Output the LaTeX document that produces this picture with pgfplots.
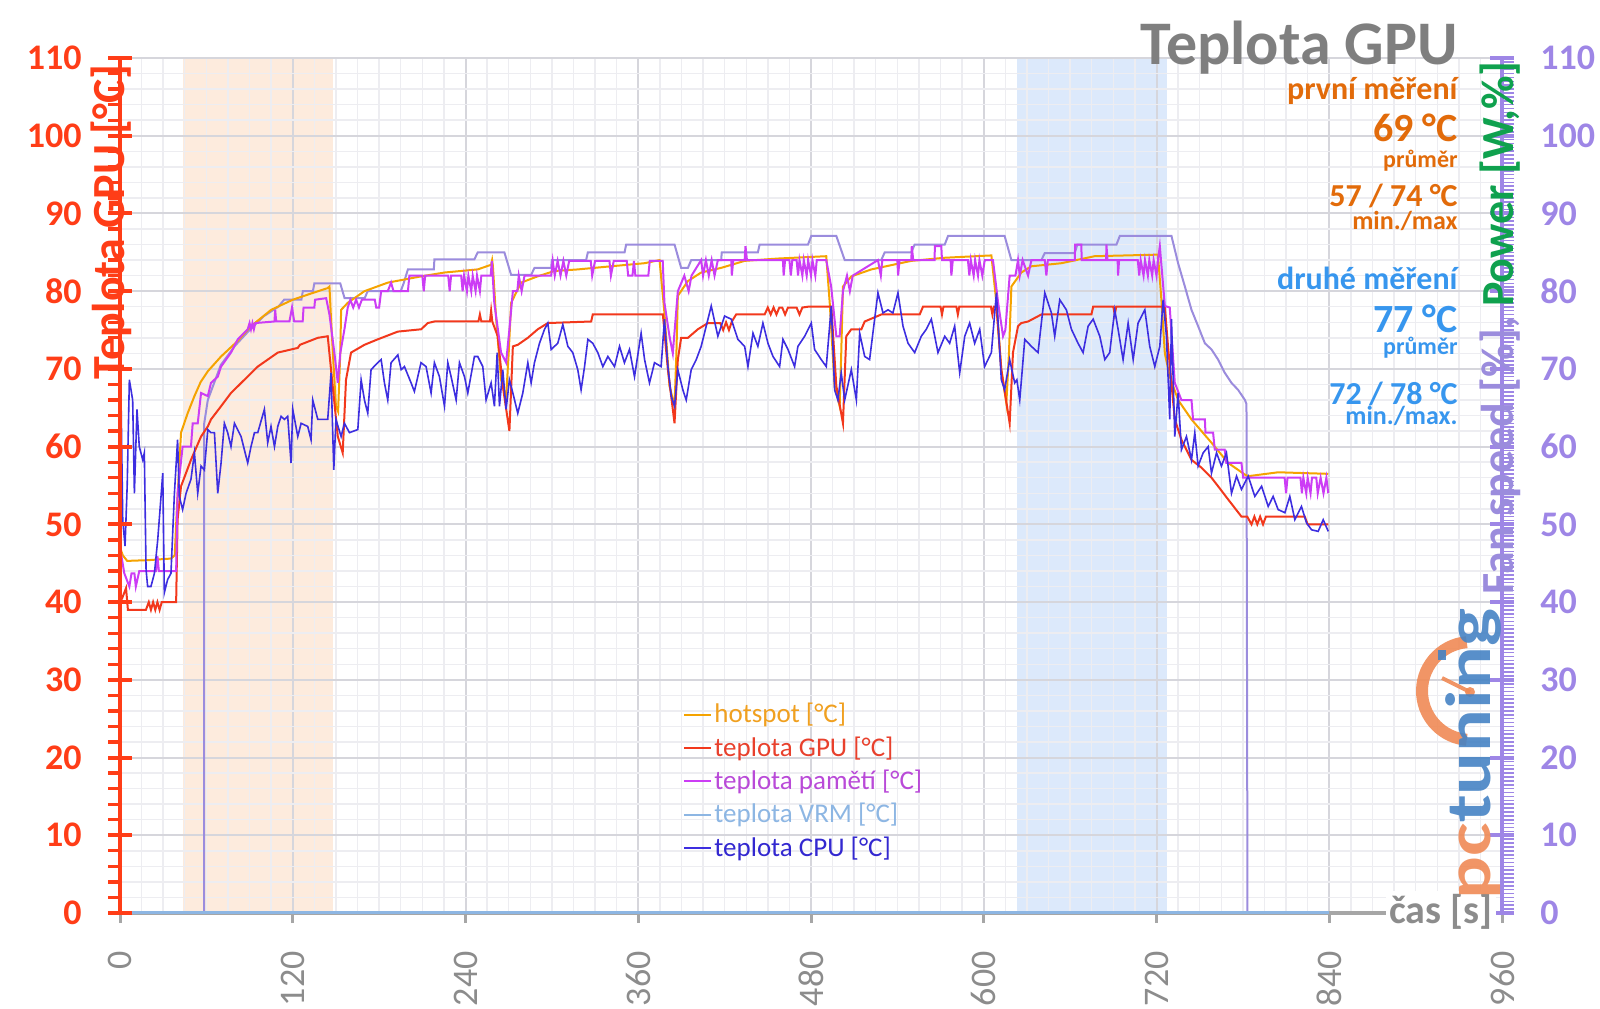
\documentclass[border=0pt]{standalone}
\usepackage{fontspec}
\setmainfont{Carlito}
\usepackage{pgfplots}
\pgfplotsset{compat=1.18}
\definecolor{leftc}{HTML}{FF3D17}
\definecolor{rightc}{HTML}{9E86E6}
\definecolor{hotc}{HTML}{F5A300}
\definecolor{gpuc}{HTML}{F2381C}
\definecolor{memc}{HTML}{CC3DF5}
\definecolor{vrmc}{HTML}{8DB6E3}
\definecolor{cpuc}{HTML}{3D2EE0}
\definecolor{fanc}{HTML}{9B8CDD}
\definecolor{shadeo}{HTML}{FDEBDD}
\definecolor{shadeb}{HTML}{DCE9FB}
\definecolor{gridmaj}{HTML}{D6D6DC}
\definecolor{gridmin}{HTML}{EDEDF1}
\definecolor{titlec}{HTML}{7F7F7F}
\definecolor{firstc}{HTML}{E26B0A}
\definecolor{secondc}{HTML}{3796EE}
\definecolor{powerc}{HTML}{0FA14E}
\definecolor{axgray}{HTML}{A6A6A6}
\definecolor{ticklab}{HTML}{8C8C8C}
\definecolor{logoo}{HTML}{F08A55}
\definecolor{logob}{HTML}{4683C4}
\definecolor{hotl}{HTML}{F0A020}
\definecolor{gpul}{HTML}{E8402C}
\definecolor{meml}{HTML}{B94AD8}
\definecolor{vrml}{HTML}{8DB6E3}
\definecolor{cpul}{HTML}{3328D0}
\pgfplotsset{base/.style={at={(60pt,47.5pt)}, anchor=south west, width=691pt, height=427.5pt,
  scale only axis, xmin=0, xmax=960, ymin=0, ymax=110,
  /pgf/number format/assume math mode=true}}
\begin{document}
\begin{tikzpicture}
\useasboundingbox (0,0) rectangle (800pt,504pt);
% shading
\begin{axis}[base, hide axis]
\addplot[fill=shadeo, draw=none] coordinates {(43.6,110)(148.2,110)} \closedcycle;
\addplot[fill=shadeb, draw=none] coordinates {(622.9,110)(727.2,110)} \closedcycle;
\end{axis}
% grid and data
\begin{axis}[base, axis line style={draw=none},
  xtick={0,120,...,960}, minor xtick={15,30,...,945},
  ytick={0,10,...,110}, minor ytick={2,4,...,108},
  grid=both, major grid style={color=gridmaj, line width=1pt},
  minor grid style={color=gridmin, line width=0.7pt},
  xticklabels={}, yticklabels={}, major tick length=0pt, minor tick length=0pt,
  legend style={at={(0.4074,0.248)}, anchor=north west, draw=none, fill=none,
    font=\fontsize{13.5}{14}\selectfont, row sep=3.4pt, inner sep=0pt, nodes={inner sep=1pt}},
  legend cell align=left,
  legend image code/.code={\draw[#1, line width=1pt] (0pt,0pt) -- (13.5pt,0pt);}]
\addplot[fanc, line width=1pt, forget plot] coordinates {(0,0)(58.5,0)(58.5,63)(61,66)(70,70.5)(80,73)(90,75)(100,76.8)(110,78)(114,78.9)(126,78.9)(127,80)(134,80)(135,81)(153,81)(156,79.1)(170,79.1)(172,80)(195,80)(197,81)(200,82.8)(218,82.8)(218.4,84.1)(246.2,84.1)(248.5,85)(267,85)(271.7,82.1)(285.6,82.1)(287.9,83)(299.5,83)(300,84)(323.8,84)(325,85)(350.5,85)(351.6,86)(385.2,86)(389.8,83)(394.5,83)(396.8,84)(417.6,84)(418,85)(443.1,85)(444.3,86)(477.9,86)(480.2,87.1)(497.6,87.1)(503.4,84)(528.8,84)(531.2,85)(549.7,85)(552,86)(572.9,86)(575.2,87.1)(614.5,87.1)(619.2,84)(640,84)(642.4,84.9)(663.2,84.9)(665,86)(692.2,86)(694.5,87.1)(730.4,87.1)(735,83.6)(739.7,80.6)(744.3,77.6)(748.9,75.5)(753.6,73.3)(758.2,72.5)(762.8,71.2)(767.4,69.5)(772.1,68.2)(776.7,67.3)(781.4,66)(782.5,65.5)(783.2,0)(840,0)};
\addplot[hotc, line width=1pt] coordinates {(0,47)(2,46)(5,45.3)(20,45.4)(35.4,45.6)(38,46)(39.5,52)(42.4,61.8)(47,64.3)(51.7,66.5)(56,68.3)(61,69.7)(70.2,71.6)(81.8,73.6)(91,75.5)(105,77.6)(120,78.9)(132.7,79.7)(144.3,80.4)(145.5,80.6)(146.6,76.4)(148.5,70)(150,65.2)(151.5,64.5)(153,72)(153.6,77.6)(158.2,78.5)(169.8,80)(186,81.1)(209,81.9)(225.4,82.4)(248.5,82.8)(257.8,83.4)(258.5,84)(259,83.3)(261.3,76.4)(264.7,68.6)(268.2,66.3)(270,72)(271.7,78.5)(278.6,81.1)(290,81.9)(301.8,82.6)(318,82.8)(341,83.2)(364.4,83.6)(374.8,84)(378.2,77.2)(381.7,67.8)(385.2,65.2)(386.5,72)(387.5,79.4)(394.5,81.3)(403.7,82.4)(417.6,83)(433.9,83.9)(457,84.2)(490.6,84.5)(493,78.5)(496.4,67.8)(499.9,65.2)(501,72)(502.2,80.6)(508,81.9)(521.9,82.8)(549.7,83.9)(572.9,84.3)(605.3,84.6)(608.8,78.5)(612.2,69.9)(615.7,65.6)(617.5,72)(619.2,80.6)(626.1,82.4)(633,83.2)(654,83.6)(677,84.5)(721,84.7)(723.4,78.9)(725.8,72)(729.2,69)(735,66)(744.3,63.5)(758.2,60.5)(769.8,57.9)(781.4,56.4)(783.7,56.2)(804.5,56.7)(839.3,56.5)};
\addlegendentry{\textcolor{hotl}{hotspot [°C]}}
\addplot[gpuc, line width=1pt] coordinates {(0,40)(1.5,40.5)(4.2,41.8)(5.5,39)(18,39)(20,40)(21.5,39)(23,40)(24.5,39)(26,40)(27.5,39)(29,40)(39,40)(40,50.6)(42.4,54.9)(49.3,58.3)(56.3,61.3)(61,62.6)(63.2,63.5)(70.2,65.2)(77.1,66.9)(86.4,68.6)(95.7,70.3)(109.6,72.1)(123.5,72.7)(125,73.1)(137.4,74)(144.3,74.2)(146.6,69.9)(151.3,61.3)(154.7,59.2)(157,68.6)(160.5,72.1)(169.8,73.1)(179,73.8)(193,74.8)(209.2,75.1)(213.8,75.9)(218.4,76.1)(249,76.1)(250,77)(251,76.1)(257,76.1)(257.8,77.5)(258.6,76.1)(262.4,74.2)(265.9,67.8)(270.5,62)(272.9,72.9)(276.3,73.1)(283.3,74)(290.2,75.1)(297.2,75.9)(327.3,76.1)(328.4,77)(377.1,77)(380.6,69.9)(385.2,63)(387.5,71.2)(389.8,74)(394.5,74)(401.4,75.1)(408.4,75.9)(417,75.9)(419,75)(421,76)(423,75)(425,76.1)(428,77)(447.8,77)(450,77.9)(452,77)(454,77.9)(456,77)(458,77.9)(460,77.9)(462,77)(464,77.9)(470,77.9)(472,77)(474,77.9)(477.9,78)(494.1,78)(497.6,67.8)(502.2,63)(504.5,74.2)(508,75.1)(515,75.1)(517.3,76.1)(528.8,77)(555.5,77)(557.8,78)(570,78)(571,77)(572,78)(581,78)(582,77)(583,78)(605,78)(606,77)(607,78)(608.8,78)(612.2,69.9)(618,63)(620.3,72.1)(623.8,75.5)(626.1,75.9)(630.8,76.1)(640,77)(674.8,77)(676,78)(690,78)(691,77)(692,78)(725.8,78)(728,72.9)(732.7,63.5)(737.3,60.9)(744.3,58.3)(751.2,57.3)(758.2,56)(762.8,54.9)(769.8,53.2)(779,51)(783,51)(786,50)(788,51)(790,50)(792,51)(794,50)(796,51)(823,51)(825,50)(839.3,50)};
\addlegendentry{\textcolor{gpul}{teplota GPU [°C]}}
\addplot[memc, line width=1pt] coordinates {(0,47)(3,43.7)(6.5,42)(8,43.7)(10,43.7)(11,42)(13.4,44)(25,44)(26,45.9)(27,44)(39,44)(40,54)(43.5,60)(49.3,60)(50.5,63)(54,63)(56.3,66.9)(61,66.5)(63.2,68.2)(67.9,69)(70.2,70.3)(77.1,72.1)(81.8,73.8)(88.7,75.1)(90,75.9)(91,75.1)(92,75.9)(93,75.1)(94,75.9)(107.3,76.1)(107.8,77.6)(108.5,76.1)(117.7,76.1)(119.5,77.9)(121,76.1)(126.9,76.1)(127.5,77.9)(135,77.9)(135.5,78.9)(143.2,79.1)(145.5,77)(148.9,72.1)(151.3,68.2)(153,72)(155.9,75.1)(158.2,77.9)(160,78.9)(162,77.9)(164,78.9)(166,77.9)(168,78.9)(177,78.9)(178,77.9)(180,77.9)(181.4,80)(186,80)(188.3,81.1)(190,80)(200,80)(201,82)(210,82)(211,80)(212,82)(228,82)(229,80)(230,82)(237,82)(238,80)(239,82)(241,80)(242,82)(244,80)(245,82)(247,80)(248,82)(250,80)(251,82)(257.5,82)(258.3,83.9)(260,78.5)(264.7,72.1)(268.2,70.8)(270.5,75.1)(272.9,80)(276,80)(277,82)(279,80)(281,82)(299.5,82)(300.6,83.9)(302,82)(304,83.9)(306,82)(308,83.9)(310,82)(312,83.9)(327,83.9)(328,82)(330,83.9)(340,83.9)(341,82)(343,83.9)(352,83.9)(353,82)(356,82)(357,83.9)(358,82)(367,82)(368,83.9)(377,83.9)(378.2,78.5)(381.7,74.2)(384,72)(387.5,80)(392,82)(395,80)(397,82)(403.7,84)(405,82)(407,84)(409,82)(411,84)(413,82)(415.3,84)(424.6,84)(425,82)(426,84)(433.9,84)(434.5,85.8)(435.5,84)(460.5,84)(461,82)(462,84)(465,84)(466,82)(467,84)(470,84)(471,82)(472,84)(474,82)(475,84)(477,82)(478,84)(480,82)(481,84)(483,82)(484,84)(490.6,84)(494,80.6)(497.6,74.2)(499.9,74.2)(502.2,80)(505,82)(507,80)(509,82)(526.5,84)(528.5,82)(529.5,84)(540,84)(540.5,82)(541.5,84)(549.7,84)(550,85.8)(551,84)(565.9,84)(566,85.8)(570.5,85.8)(571,84)(577,84)(577.5,82)(578.5,84)(589,84)(590,82)(591,84)(593,82)(594,84)(596,82)(597,84)(599,82)(600.7,84)(606.4,84)(610,78.5)(613.4,74.2)(615,75)(618,82)(622,82)(623.8,84)(625,82)(627,84)(630.8,82)(633.1,84)(642.4,84)(643.5,82)(644.5,84)(663.2,84)(663.5,86)(667.8,86)(668,84)(685,84)(685.2,86)(686,84)(693,84)(693.3,82)(694,84)(707,84)(708,82)(709,84)(711,82)(712,84)(714,82)(715,84)(717,82)(718,84)(720,82)(721,84)(722.3,85.8)(725.8,78.1)(729.2,77.9)(732.7,68.2)(737.3,66)(744.3,66)(745.4,63.5)(753.6,63.5)(754,61.8)(759.3,61.8)(760.5,59.6)(767.4,59.6)(768.5,57.9)(779,57.9)(780.2,56)(809,56)(810,54)(811,56)(820,56)(821,54)(822,56)(824,54)(825,56)(827,54)(828,56)(831,56)(832,54)(834,56)(836,54)(838,56)(839.3,54)};
\addlegendentry{\textcolor{meml}{teplota pamětí [°C]}}
\addlegendimage{vrmc, line width=1pt}
\addlegendentry{\textcolor{vrml}{teplota VRM [°C]}}
\addplot[cpuc, line width=0.8pt] coordinates {(0.5,69)(1.9,50.6)(3.5,47.2)(5,55)(6.5,68.6)(8.8,66)(10,54)(11.8,64.8)(13.4,60)(15.8,58.3)(16.9,59.2)(18.1,44.2)(19.2,42)(21.5,42)(23.9,43.7)(26.2,48)(28.5,53.6)(29.7,56.6)(30.8,41.2)(33.1,42.9)(35.4,43.7)(37.8,54)(40,60.9)(41.2,53.6)(43.5,51.9)(45.9,54)(49.3,55.8)(51.7,59.2)(54,54)(56.3,57.5)(58.6,57)(61,62.2)(63.2,61.8)(65.6,61.8)(67.9,54)(70.2,57.9)(72.5,63)(74.8,61.8)(77.1,60)(79.5,63)(84.1,61.3)(88.7,57.9)(91,60)(93.4,61.8)(95.7,61.8)(100.3,64.8)(102.6,60.5)(104.9,62.6)(107.3,60)(109.6,62.6)(111.9,63.9)(114.2,63.5)(116.5,63.9)(118.8,57.9)(120,64.8)(123.5,61.3)(125.8,63)(130.4,62.6)(132.7,60.9)(133.9,66)(137.4,63.5)(142,63.5)(144.3,63.5)(146.6,69.5)(148.5,57)(150,63.5)(153.6,61.3)(155.9,63)(159.4,61.8)(165.2,62.2)(167.5,68.6)(169.8,66)(172.1,64.3)(174.4,69.9)(179,70.8)(181.4,71.2)(183.7,68.2)(186,66)(188.3,70.8)(193,71.8)(195.3,69.9)(197.6,70.3)(202.2,68.2)(204.5,67.1)(209.1,70.8)(212.6,70.3)(216.1,66.9)(218.4,70.8)(221.9,69)(225.4,65.2)(227.7,70.8)(230,69)(233.5,66)(235.8,70.8)(239.3,69)(241.6,66.9)(246.2,71.6)(248.5,71.6)(252,70.3)(254.3,66)(257.8,68.2)(260.1,65.2)(262,72.1)(263.6,65.2)(265.9,69.9)(268.2,64.8)(270.5,68.6)(272.9,66.9)(276.3,64.3)(279.8,66.9)(283.3,70.8)(285.6,68.2)(287.9,70.8)(291.4,73.3)(294.9,75.1)(297.2,75.9)(299.5,72.5)(304.1,73.3)(307.6,75.7)(311.1,72.9)(314.5,72.1)(318,69.9)(320.3,67.3)(322.7,70.3)(325,73.8)(328.4,73.3)(331.9,72.1)(335.4,70.3)(338.9,71.6)(343.5,70.3)(347,72.9)(350.4,70.8)(353.9,72.5)(357.4,69)(362,74.6)(364.4,71.2)(367.8,68.2)(371.3,70.8)(375.9,70.3)(378.2,76.4)(380.6,70.3)(382.9,66.5)(385.2,65.2)(387.5,69.9)(391,67.3)(393.3,66)(396.8,69.9)(400.3,71.2)(403.7,72.9)(406,74.6)(410.7,78.1)(415.3,74.2)(420,76.8)(424.6,76.4)(429.2,73.8)(433.9,72.9)(436.2,70.3)(439.7,74.6)(443.1,72.9)(446.6,75.9)(450.1,73.3)(453.6,71.6)(458.2,70.3)(460.5,73.8)(464,72.5)(468.6,70.3)(470.9,72.9)(475.6,74.2)(480.2,75.9)(482.5,72.5)(487.1,71.2)(490.6,70.3)(494.1,78.1)(496.4,67.3)(498.7,66)(501,69.5)(503.4,66)(508,69.9)(511.5,66)(513.8,74.6)(517.3,71.6)(520.7,71.2)(524.2,76.4)(526.5,79.8)(530,77.2)(533.5,77.6)(536.9,77.2)(540.4,79.8)(543.9,75.5)(547.4,73.3)(552,72.1)(556.6,74.2)(560.1,75.1)(563.6,76.4)(568.2,72.1)(572.9,74.2)(576.3,73.3)(579.8,75.5)(583.3,69.5)(586.8,74.2)(590.2,75.9)(593.7,73.3)(597.2,75.1)(600.6,70.3)(605.3,72.1)(608.8,79.8)(612.2,68.6)(614.5,67.3)(618,71.2)(621.5,68.2)(623,68.6)(625,66)(628.5,73.8)(633.1,72.9)(637.7,72.1)(642.4,79.8)(647,77.2)(649.3,74.2)(652.8,78.9)(657.4,77.6)(660.9,75.1)(665.5,73.3)(669,72.1)(672.5,75.5)(676,76.4)(680.6,74.2)(684.1,71.2)(687.5,72.1)(691,77.6)(693.3,75.1)(696.8,71.2)(700.3,75.9)(703.8,71.2)(707.2,75.9)(711.9,77.6)(715.3,72.9)(718.8,70.3)(722.3,72.9)(724.6,78.9)(726.9,74.2)(729.2,63.5)(730.4,76.4)(732.7,61.3)(735,66.9)(737.3,59.6)(740.8,61.3)(744.3,58.3)(746.6,61.8)(748.9,57.5)(752.4,59.2)(755.9,60)(758.2,56.6)(761.7,59.2)(765.1,57.5)(768.6,59.2)(772.1,54)(775.6,56.2)(779,54.5)(783.7,56.2)(788.3,53.6)(793,54.9)(797.6,52.3)(801,53.6)(804.5,51.9)(809.2,51.5)(812.6,53.6)(816.1,50.6)(820.7,52.3)(824.2,50.2)(827.7,49.3)(832.3,49.1)(835.8,50.6)(839.3,49.1)};
\addlegendentry{\textcolor{cpul}{teplota CPU [°C]}}
\end{axis}
% x axis (gray) with VRM line on top
\begin{axis}[base, hide y axis, axis x line*=bottom,
  x axis line style={color=axgray, line width=2pt},
  xtick={0,120,...,960}, tick align=outside, major tick length=5pt,
  xtick style={color=axgray, line width=1.5pt},
  xticklabel style={rotate=90, anchor=east, inner sep=0pt, xshift=-14pt, text=ticklab,
    font=\fontsize{18}{18}\selectfont}]
\addplot[vrmc, line width=2pt] coordinates {(0,0)(840,0)};
\end{axis}
% left axis
\begin{axis}[base, hide x axis, axis y line*=left,
  y axis line style={color=leftc, line width=2pt},
  ytick={0,10,...,110}, minor y tick num=4, tick align=center,
  major tick length=12pt, minor tick length=6pt,
  tick style={color=leftc, line width=2pt},
  minor tick style={xshift=-3pt, line width=1.6pt},
  yticklabel style={text=leftc, font=\fontsize{18}{18}\bfseries, inner sep=0pt, anchor=east, xshift=-13pt}]
\addplot[draw=none] coordinates {(0,0)};
\end{axis}
% right axis
\begin{axis}[base, hide x axis, axis y line*=right,
  y axis line style={color=rightc, line width=2pt},
  ytick={0,10,...,110}, minor y tick num=19, tick align=center,
  major tick length=12pt, minor tick length=6pt,
  tick style={color=rightc, line width=2pt},
  minor tick style={xshift=3pt, line width=0.8pt},
  yticklabel style={text=rightc, font=\fontsize{18}{18}\bfseries, inner sep=0pt, anchor=west, xshift=13pt}]
\addplot[draw=none] coordinates {(0,0)};
\end{axis}
% axis titles
\node[rotate=90, anchor=base, font=\fontsize{23}{23}\bfseries, text=leftc] at (62pt,393pt) {Teplota GPU [°C]};
\node[rotate=90, anchor=base, font=\fontsize{23}{23}\bfseries] at (756.5pt,340pt) {\textcolor{fanc}{Fan speed [\%], }\textcolor{powerc}{Power [W,\%]}};
\node[fill=white, inner sep=1.5pt, font=\fontsize{20}{20}\bfseries, text=ticklab] at (720.5pt,48pt) {čas [s]};
% logo
\begin{scope}[opacity=0.9]
\draw[logoo, line width=6pt] (735.5pt,158.5pt) ++(95:24.5pt) arc[start angle=95, end angle=265, radius=24.5pt];
\draw[logoo, line width=2pt] (735pt,158pt) -- (721pt,165pt);
\fill[logoo] (735pt,158pt) circle (2.5pt);
\fill[logob] (719pt,174pt) rectangle (723pt,179pt);
\node[rotate=90, anchor=base, font=\fontsize{32}{32}\bfseries] at (745pt,127pt) {\scalebox{1.25}[1]{\textcolor{logoo}{pc}\textcolor{logob}{tuning}}};
\end{scope}
% title and annotations
\begin{scope}[every node/.style={anchor=base east, inner sep=0pt}]
\node[font=\fontsize{31}{31}\bfseries, text=titlec] at (729pt,471.5pt) {Teplota GPU};
\node[font=\fontsize{16}{16}\bfseries, text=firstc] at (729pt,454pt) {první měření};
\node[font=\fontsize{20}{20}\bfseries, text=firstc] at (729pt,433.2pt) {69 °C};
\node[font=\fontsize{12}{12}\bfseries, text=firstc] at (729pt,420pt) {průměr};
\node[font=\fontsize{16}{16}\bfseries, text=firstc] at (729pt,400.7pt) {57 / 74 °C};
\node[font=\fontsize{13}{13}\bfseries, text=firstc] at (729pt,389pt) {min./max};
\node[font=\fontsize{16}{16}\bfseries, text=secondc] at (729pt,359pt) {druhé měření};
\node[font=\fontsize{20}{20}\bfseries, text=secondc] at (729pt,337.5pt) {77 °C};
\node[font=\fontsize{12}{12}\bfseries, text=secondc] at (729pt,326.5pt) {průměr};
\node[font=\fontsize{16}{16}\bfseries, text=secondc] at (729pt,301.5pt) {72 / 78 °C};
\node[font=\fontsize{13}{13}\bfseries, text=secondc] at (729pt,291.5pt) {min./max.};
\end{scope}
\end{tikzpicture}
\end{document}
